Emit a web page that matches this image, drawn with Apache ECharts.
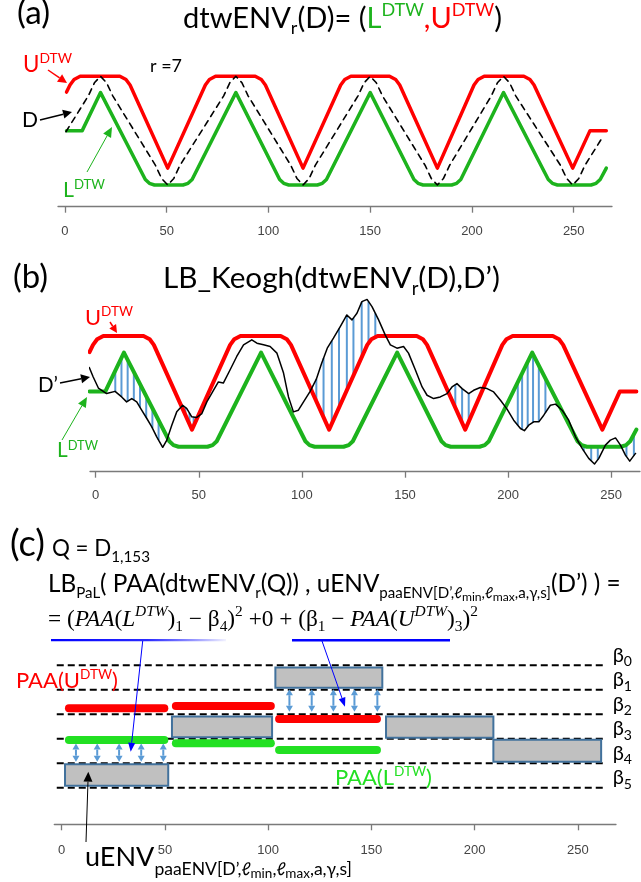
<!DOCTYPE html>
<html><head><meta charset="utf-8">
<script src="https://cdn.jsdelivr.net/npm/echarts@6/dist/echarts.min.js"></script>
<style>html,body{margin:0;padding:0;background:#fff}#c{width:641px;height:882px}</style>
</head><body><div id="c"></div>
<script>
// ================= DATA =================
const xTicks = [0, 50, 100, 150, 200, 250];

// Panel (a): series D (dashed) and its DTW envelope
const D_a = [[0.5,-0.02],[11.5,0.64],[14.5,0.88],[17.5,1.0],[20.5,0.88],[23.5,0.64],[44.5,-0.64],[47.5,-0.88],[50.5,-1.0],[53.5,-0.88],[56.5,-0.64],[78,0.64],[81,0.88],[84,1.0],[87,0.88],[90,0.64],[111,-0.64],[114,-0.88],[117,-1.0],[120,-0.88],[123,-0.64],[144,0.64],[147,0.88],[150,1.0],[153,0.88],[156,0.64],[177,-0.64],[180,-0.88],[183,-1.0],[186,-0.88],[189,-0.64],[209.5,0.64],[212.5,0.88],[215.5,1.0],[218.5,0.88],[221.5,0.64],[243.5,-0.64],[246.5,-0.88],[249.5,-1.0],[252.5,-0.88],[255.5,-0.64],[264.5,-0.1]];
const U_a = [[0.8,0.71],[2.5,0.84],[4.5,0.94],[7.5,1.0],[27,1.0],[30,0.94],[32,0.84],[50.5,-0.69],[69,0.84],[71,0.94],[74,1.0],[93.5,1.0],[96.5,0.94],[98.5,0.84],[117,-0.69],[135.5,0.84],[137.5,0.94],[140.5,1.0],[159.5,1.0],[162.5,0.94],[164.5,0.84],[183,-0.69],[201,0.84],[203,0.94],[206,1.0],[225.5,1.0],[228.5,0.94],[230.5,0.84],[249.5,-0.69],[258,0.0],[266,0.0]];
const L_a = [[0.8,0.0],[8.5,0.0],[17.5,0.70],[39.5,-0.9],[41.5,-0.97],[44,-1.0],[58,-1.0],[60.5,-0.97],[62.5,-0.9],[84,0.70],[105.5,-0.9],[107.5,-0.97],[110,-1.0],[124,-1.0],[126.5,-0.97],[128.5,-0.9],[150,0.70],[171.5,-0.9],[173.5,-0.97],[176,-1.0],[190,-1.0],[192.5,-0.97],[194.5,-0.9],[215.5,0.70],[237.5,-0.9],[239.5,-0.97],[242,-1.0],[258.5,-1.0],[261,-0.97],[263,-0.9],[266,-0.69]];

// Panel (b): the same envelope drawn shifted on the axis, and the query D'
const shiftB = -3.8;
const Dp_b = [[-3.1,0.43],[-1.2,0.26],[1.3,0.06],[5.3,-0.04],[9.4,0.0],[12.6,-0.10],[15,-0.19],[17.5,-0.13],[19.9,-0.19],[22.3,-0.34],[24.8,-0.49],[27.2,-0.64],[29.6,-0.82],[32.5,-1.01],[34.5,-0.88],[36.9,-0.61],[39.3,-0.37],[42.2,-0.25],[44.2,-0.31],[46.6,-0.46],[49,-0.47],[51.5,-0.40],[53.9,-0.19],[57.1,0.02],[59.5,0.17],[61.9,0.15],[65.2,0.39],[68.4,0.63],[71.7,0.84],[75.7,0.93],[78.2,0.87],[81.4,0.84],[84.6,0.81],[87.9,0.69],[91.1,0.33],[93.5,-0.10],[95.9,-0.37],[98.3,-0.34],[100.8,-0.19],[104,0.0],[107,0.22],[109.5,0.5],[112.3,0.78],[115.3,0.96],[118.6,1.17],[121.8,1.38],[124.3,1.29],[126.7,1.41],[129.1,1.62],[131.6,1.66],[134,1.53],[137.2,1.29],[140.4,1.02],[142.9,0.84],[146.1,0.78],[149.3,0.81],[151.7,0.69],[155,0.39],[158.3,0.08],[160.7,-0.07],[163.9,-0.13],[167.1,-0.10],[170.4,-0.04],[172.8,0.08],[175.2,0.14],[177.7,0.05],[180.9,-0.04],[183.3,0.02],[186.5,0.07],[189.8,0.05],[193,-0.01],[196.3,-0.16],[199.5,-0.32],[202.7,-0.52],[206,-0.67],[207.9,-0.71],[210,-0.61],[212.4,-0.55],[214.9,-0.55],[217.3,-0.43],[220.5,-0.25],[223,-0.23],[226.2,-0.34],[229.4,-0.52],[232.7,-0.82],[235.9,-1.03],[239.1,-1.21],[241.9,-1.31],[244,-1.21],[247.2,-0.97],[249.6,-0.88],[252.1,-0.84],[254.5,-0.97],[256.9,-1.15],[259,-1.26],[261.8,-1.12]];
const hatchX_b = [9.5,12.5,15.5,18.5,21.5,24.5,27.5,30.5,43.5,45.5,47.5,107,110.5,114.5,118,121.8,125,129,132.3,135.6,174.4,177.7,180.9,204.7,206.8,209.5,212.1,214.9,218.1,236.7,240.3,243.5,257.4,261];

// Panel (c): breakpoint levels (beta_k at level 5-k), uENV boxes, PAA envelope pieces
const betaNames = ['0','1','2','3','4','5'];
const betaLevels = [5,4,3,2,1,0];
const betaSpan = [-2.4, 264];
const uenvBoxes = [[1.6,51.6,0.08,0.955],[53.4,101.9,2.06,2.9],[103.5,155.3,4.08,4.9],[157.1,209.1,2.04,2.9],[209.1,261.3,1.06,1.96]];
const paaU = [[3.5,49.7,3.24],[55.3,101.3,3.33],[105.3,152.7,2.80]];
const paaL = [[3.5,49.7,1.95],[55.3,101.3,1.81],[105.3,152.7,1.54]];
const gapArrows = [[6.9,1.06,1.8],[17.2,1.06,1.8],[27.8,1.06,1.8],[38.5,1.06,1.8],[49.2,1.06,1.8],[110.3,3.1,4.02],[121.1,3.1,4.02],[131.6,3.1,4.02],[141.8,3.1,4.02],[152.9,3.1,4.02]];

// ================= HELPERS =================
const FAM = 'Lato, "Noto Sans", "DejaVu Sans", sans-serif';
const SERIF = '"Liberation Serif", "DejaVu Serif", serif';
const RED = '#ff0000', GRN = '#1db31d', GRN2 = '#22e022', HATCH = '#5b9bd5';
const ctx2 = document.createElement('canvas').getContext('2d');
function fontStr(s, fam, it){ return (it ? 'italic ' : '') + s.toFixed(2) + 'px ' + fam; }
function tw(t, s, fam, it){ ctx2.font = fontStr(s, fam, it); return ctx2.measureText(t).width; }
function midOff(s, fam, it){
  ctx2.font = fontStr(s, fam, it);
  ctx2.textBaseline = 'alphabetic'; const a = ctx2.measureText('H').actualBoundingBoxAscent;
  ctx2.textBaseline = 'middle'; const b = ctx2.measureText('H').actualBoundingBoxAscent;
  ctx2.textBaseline = 'alphabetic'; return a - b;
}
function runs(x0, x1, base, size, parts, color, fam){
  fam = fam || FAM;
  let tot = 0;
  parts.forEach(p => { tot += tw(p[0], size * (p[1] || 1), p[5] || fam, p[4]); });
  const k = (x1 != null) ? (x1 - x0) / tot : 1;
  const S = size * k; let x = x0; const out = [];
  parts.forEach(p => {
    const s = S * (p[1] || 1), f = p[5] || fam, it = !!p[4];
    const yb = base + (p[2] || 0) * S;
    out.push({type:'text', x:x, y:yb - midOff(s, f, it), z:100, silent:true,
      style:{text:p[0], font:fontStr(s, f, it), fill:p[3] || color || '#000', align:'left', verticalAlign:'middle'}});
    x += tw(p[0], s, f, it);
  });
  return out;
}
function arrowEls(x1, y1, x2, y2, color, lw, hl, hw){
  const dx = x2 - x1, dy = y2 - y1, L = Math.hypot(dx, dy), ux = dx / L, uy = dy / L;
  const bx = x2 - ux * hl, by = y2 - uy * hl;
  return [
    {type:'line', z:100, silent:true, shape:{x1:x1, y1:y1, x2:bx, y2:by}, style:{stroke:color, lineWidth:lw}},
    {type:'polygon', z:100, silent:true, shape:{points:[[x2,y2],[bx - uy*hw, by + ux*hw],[bx + uy*hw, by - ux*hw]]}, style:{fill:color}}
  ];
}
function interp(arr, x){
  for (let i = 0; i < arr.length - 1; i++) {
    const a = arr[i], b = arr[i+1];
    if (x >= a[0] && x <= b[0]) return a[1] + (b[1] - a[1]) * (x - a[0]) / (b[0] - a[0]);
  }
  return null;
}

const U_b = U_a.map(p => [p[0] + shiftB, p[1]]);
const L_b = L_a.map(p => [p[0] + shiftB, p[1]]);
const hatchData = [];
hatchX_b.forEach(x => {
  const d = interp(Dp_b, x), u = interp(U_b, x), l = interp(L_b, x);
  if (d == null || u == null || l == null) return;
  if (d > u) hatchData.push([x, u, d]);
  else if (d < l) hatchData.push([x, d, l]);
});

// ================= CHART =================
const chart = echarts.init(document.getElementById('c'), null, {renderer:'canvas'});

function xAx(i, min, max, margin){
  return {gridIndex:i, type:'value', min:min, max:max,
    axisLine:{show:true, onZero:false, lineStyle:{color:'#7a7a7a', width:1.3}},
    axisTick:{show:true, length:6, customValues:xTicks, lineStyle:{color:'#7a7a7a', width:1.3}},
    axisLabel:{show:true, customValues:xTicks, margin:margin, color:'#444', fontSize:13, fontFamily:'"Liberation Sans", Arial, sans-serif'},
    splitLine:{show:false}};
}
function yAx(i, min, max){ return {gridIndex:i, type:'value', min:min, max:max, show:false, splitLine:{show:false}}; }

function lineS(data, xi, color, width, dash, z){
  return {type:'line', xAxisIndex:xi, yAxisIndex:xi, data:data, showSymbol:false, symbol:'none', silent:true, z:z||2,
    clip:false, lineStyle:{color:color, width:width, type:dash || 'solid', join:'round', cap:'round'}};
}

const series = [
  lineS(U_a, 0, RED, 3.5), lineS(L_a, 0, GRN, 3.5), lineS(D_a, 0, '#000', 1.6, [6,5], 3),
  {type:'custom', xAxisIndex:1, yAxisIndex:1, data:hatchData, silent:true, z:1, encode:{x:0, y:[1,2]},
    renderItem:function(params, api){
      const p1 = api.coord([api.value(0), api.value(1)]), p2 = api.coord([api.value(0), api.value(2)]);
      return {type:'line', shape:{x1:p1[0], y1:p1[1], x2:p2[0], y2:p2[1]}, style:{stroke:HATCH, lineWidth:2}};
    }},
  lineS(U_b, 1, RED, 4), lineS(L_b, 1, GRN, 4), lineS(Dp_b, 1, '#000', 1.5, 'solid', 4),
  {type:'custom', xAxisIndex:2, yAxisIndex:2, silent:true, z:1, encode:{x:[0,1], y:2},
    data:betaLevels.map((lv, i) => [betaSpan[0], betaSpan[1], lv, i]),
    renderItem:function(params, api){
      const a = api.coord([api.value(0), api.value(2)]), b = api.coord([api.value(1), api.value(2)]);
      const nm = betaNames[api.value(3)];
      const s1 = 20, s2 = 14, y = a[1];
      return {type:'group', children:[
        {type:'line', shape:{x1:a[0], y1:y, x2:b[0], y2:y}, style:{stroke:'#000', lineWidth:2, lineDash:[7,4]}},
        {type:'text', x:b[0] + 6, y:y - 3.5 - midOff(s1, FAM, false), style:{text:'β', font:fontStr(s1, FAM, false), fill:'#000', align:'left', verticalAlign:'middle'}},
        {type:'text', x:b[0] + 6 + tw('β', s1, FAM, false), y:y + 1 - midOff(s2, FAM, false), style:{text:nm, font:fontStr(s2, FAM, false), fill:'#000', align:'left', verticalAlign:'middle'}}
      ]};
    }},
  {type:'custom', xAxisIndex:2, yAxisIndex:2, silent:true, z:3, encode:{x:[0,1], y:2},
    data:paaU.map(d => d.concat([0])).concat(paaL.map(d => d.concat([1]))),
    renderItem:function(params, api){
      const a = api.coord([api.value(0), api.value(2)]), b = api.coord([api.value(1), api.value(2)]);
      return {type:'line', shape:{x1:a[0], y1:a[1], x2:b[0], y2:b[1]}, style:{stroke:api.value(3) ? GRN2 : RED, lineWidth:8, lineCap:'round'}};
    }},
  {type:'custom', xAxisIndex:2, yAxisIndex:2, silent:true, z:4, encode:{x:[0,1], y:[2,3]}, data:uenvBoxes,
    renderItem:function(params, api){
      const p0 = api.coord([api.value(0), api.value(3)]), p1 = api.coord([api.value(1), api.value(2)]);
      return {type:'rect', shape:{x:p0[0], y:p0[1], width:p1[0]-p0[0], height:p1[1]-p0[1]}, style:{fill:'#c0c0c0', stroke:'#41719c', lineWidth:2}};
    }},
  {type:'custom', xAxisIndex:2, yAxisIndex:2, silent:true, z:5, encode:{x:0, y:[1,2]}, data:gapArrows,
    renderItem:function(params, api){
      const a = api.coord([api.value(0), api.value(1)]), b = api.coord([api.value(0), api.value(2)]);
      const hl = 6, hw = 3.5, top = Math.min(a[1], b[1]), bot = Math.max(a[1], b[1]), x = a[0];
      return {type:'group', children:[
        {type:'line', shape:{x1:x, y1:top + hl, x2:x, y2:bot - hl}, style:{stroke:HATCH, lineWidth:2}},
        {type:'polygon', shape:{points:[[x, top],[x - hw, top + hl],[x + hw, top + hl]]}, style:{fill:HATCH}},
        {type:'polygon', shape:{points:[[x, bot],[x - hw, bot - hl],[x + hw, bot - hl]]}, style:{fill:HATCH}}
      ]};
    }}
];

let g = [];
// Panel (a) texts
g = g.concat(runs(17, 50, 23.5, 26, [['(a)']]));
g = g.concat(runs(183, 502, 28, 25, [['dtwENV'],['r',0.62,0.22],['(D)= ('],['L',1,0,GRN],['DTW',0.62,-0.42,GRN],[',',1,0,RED],['U',1,0,RED],['DTW',0.62,-0.42,RED],[')']]));
g = g.concat(runs(23, 72, 71.5, 21, [['U'],['DTW',0.62,-0.4]], RED));
g = g.concat(runs(150, 182, 71.5, 16, [['r =7']]));
g = g.concat(runs(22, 38, 126.5, 26, [['D']]));
g = g.concat(runs(63, 105, 196.5, 26, [['L'],['DTW',0.62,-0.33]], GRN));
g = g.concat(arrowEls(48, 70, 67, 83, RED, 1.5, 9, 4.5));
g = g.concat(arrowEls(40, 120, 72, 112, '#000', 1.5, 9, 4.5));
g = g.concat(arrowEls(87, 172, 112, 127, GRN, 1, 10, 4.5));
// Panel (b) texts
g = g.concat(runs(13, 48, 287.5, 26, [['(b)']]));
g = g.concat(runs(163, 500, 288, 25, [['LB_Keogh(dtwENV'],['r',0.62,0.22],['(D),D’)']]));
g = g.concat(runs(85, 133, 325, 21, [['U'],['DTW',0.62,-0.4]], RED));
g = g.concat(runs(38, 58, 391.7, 27, [['D’']]));
g = g.concat(runs(57, 98, 456.7, 26, [['L'],['DTW',0.62,-0.33]], GRN));
g = g.concat(arrowEls(110, 322, 117, 333, RED, 1.5, 8, 4));
g = g.concat(arrowEls(60, 383, 90, 377, '#000', 1.5, 9, 4.5));
g = g.concat(arrowEls(62, 440, 87, 397, GRN, 1, 10, 4.5));
// Panel (c) texts
g = g.concat(runs(10, 45, 556, 26, [['(c)']]));
g = g.concat(runs(52, 150, 556, 20, [['Q = D'],['1,153',0.68,0.25]]));
g = g.concat(runs(48, 621, 592, 21, [['LB'],['PaL',0.62,0.25],['( PAA(dtwENV'],['r',0.62,0.25],['(Q)) , uENV'],['paaENV[D’,',0.62,0.25],['ℓ',0.62,0.25,null,true],['min',0.5,0.36],[',',0.62,0.25],['ℓ',0.62,0.25,null,true],['max',0.5,0.36],[',a,γ,s]',0.62,0.25],['(D’) ) =']]));
g = g.concat(runs(48, 478, 626, 19, [['= ('],['PAA',1,0,null,true],['('],['L',1,0,null,true],['DTW',0.66,-0.42,null,true],[')'],['1',0.66,0.22],[' − β'],['4',0.66,0.22],[')'],['2',0.66,-0.42],[' +0 + (β'],['1',0.66,0.22],[' − '],['PAA',1,0,null,true],['('],['U',1,0,null,true],['DTW',0.66,-0.42,null,true],[')'],['3',0.66,0.22],[')'],['2',0.66,-0.42]], '#000', SERIF));
g.push({type:'rect', z:90, silent:true, shape:{x:51, y:639, width:175, height:2.2},
  style:{fill:new echarts.graphic.LinearGradient(0, 0, 1, 0, [{offset:0, color:'#0000ff'},{offset:0.55, color:'#2a2aff'},{offset:1, color:'rgba(0,0,255,0.05)'}])}});
g.push({type:'rect', z:90, silent:true, shape:{x:292, y:639, width:158, height:2.5}, style:{fill:'#0000ff'}});
g = g.concat(arrowEls(142.7, 641, 130.7, 751.7, '#0000ff', 1, 9, 3.5));
g = g.concat(arrowEls(322, 641, 345, 706.7, '#0000ff', 1, 9, 3.5));
g = g.concat(runs(16, 118, 688, 24, [['PAA('],['U'],['DTW',0.62,-0.42],[')']], RED));
g = g.concat(runs(335, 432, 785, 24, [['PAA('],['L'],['DTW',0.62,-0.42],[')']], GRN2));
g = g.concat(runs(85, 352, 866, 26, [['uENV'],['paaENV[D’,',0.65,0.33],['ℓ',0.65,0.33,null,true],['min',0.5,0.45],[',',0.65,0.33],['ℓ',0.65,0.33,null,true],['max',0.5,0.45],[',a,γ,s]',0.65,0.33]]));
g = g.concat(arrowEls(86, 842, 88.3, 771.7, '#000', 1, 10, 4.5));

chart.setOption({
  animation:false,
  backgroundColor:'#ffffff',
  grid:[
    {left:58, top:60, width:554, height:146.7},
    {left:90, top:290, width:550, height:181.7},
    {left:54.3, top:660, width:561.7, height:164.3}
  ],
  xAxis:[xAx(0, -3.4, 268.8, 18.5), xAx(1, -2.76, 263.97, 17.5), xAx(2, -3.59, 268.5, 19.5)],
  yAxis:[yAx(0, -1.4, 1.3), yAx(1, -1.45, 1.83), yAx(2, -1.494, 5.21)],
  series:series,
  graphic:g
});
</script></body></html>
